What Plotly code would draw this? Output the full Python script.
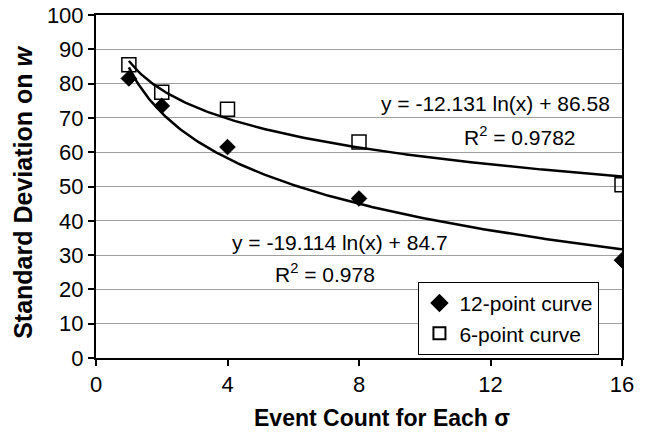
import numpy as np
import plotly.graph_objects as go

# Data
event_counts = [1, 2, 4, 8, 16]
sd_12pt = [81.5, 73.5, 61.5, 46.5, 28.5]
sd_6pt = [85.5, 77.5, 72.5, 63.0, 50.5]

# Trendline coefficients (logarithmic fits shown on chart)
fit_12 = (-19.114, 84.7, 0.978)
fit_6 = (-12.131, 86.58, 0.9782)

x_tick_vals = [0, 4, 8, 12, 16]

FONT = "Liberation Sans, Arial, sans-serif"

xs = np.linspace(1, 16, 200)

fig = go.Figure()
fig.add_trace(go.Scatter(x=xs, y=fit_12[0] * np.log(xs) + fit_12[1], mode="lines",
                         line=dict(color="black", width=2.5), showlegend=False, hoverinfo="skip"))
fig.add_trace(go.Scatter(x=xs, y=fit_6[0] * np.log(xs) + fit_6[1], mode="lines",
                         line=dict(color="black", width=2.5), showlegend=False, hoverinfo="skip"))
fig.add_trace(go.Scatter(x=event_counts, y=sd_12pt, mode="markers", name="12-point curve",
                         marker=dict(symbol="diamond", size=12, color="black",
                                     line=dict(color="black", width=1))))
fig.add_trace(go.Scatter(x=event_counts, y=sd_6pt, mode="markers", name="6-point curve",
                         marker=dict(symbol="square-open", size=14, color="black",
                                     line=dict(color="black", width=1.5))))

ANN = dict(family=FONT, size=21, color="black")
fig.add_annotation(x=12.16, y=74.3, text=f"y = {fit_6[0]:g} ln(x) + {fit_6[1]:g}",
                   showarrow=False, font=ANN)
fig.add_annotation(x=12.9, y=64.8, text=f"R<sup>2</sup> = {fit_6[2]:g}",
                   showarrow=False, font=ANN)
fig.add_annotation(x=7.42, y=33.8, text=f"y = {fit_12[0]:g} ln(x) + {fit_12[1]:g}",
                   showarrow=False, font=ANN)
fig.add_annotation(x=6.96, y=24.8, text=f"R<sup>2</sup> = {fit_12[2]:g}",
                   showarrow=False, font=ANN)

# Axis titles
fig.add_annotation(xref="paper", yref="paper", x=0.544, y=-0.175,
                   xanchor="center", yanchor="middle",
                   text="<b>Event Count for Each σ</b>", showarrow=False,
                   font=dict(family=FONT, size=23, color="black"))
fig.add_annotation(xref="paper", yref="paper", x=-0.139, y=0.484, textangle=-90,
                   xanchor="center", yanchor="middle",
                   text="<b>Standard Deviation on <i>w</i></b>", showarrow=False,
                   font=dict(family=FONT, size=25, color="black"))

fig.update_layout(
    width=649, height=432,
    margin=dict(l=96, r=27, t=15, b=74, autoexpand=False),
    paper_bgcolor="white", plot_bgcolor="white",
    font=dict(family=FONT, size=22, color="black"),
    xaxis=dict(range=[0, 16], tickvals=x_tick_vals, showgrid=False, zeroline=False,
               showline=True, linecolor="black", linewidth=2, mirror=True,
               ticks="outside", ticklen=6, tickwidth=2, tickcolor="black",
               tickfont=dict(size=22), automargin=False),
    yaxis=dict(range=[0, 100], dtick=10, showgrid=True, gridcolor="#a0a0a0", gridwidth=1,
               zeroline=False, showline=True, linecolor="black", linewidth=2, mirror=True,
               ticks="outside", ticklen=6, tickwidth=2, tickcolor="black",
               tickfont=dict(size=22), automargin=False),
    legend=dict(x=0.613, y=0.222, xanchor="left", yanchor="top",
                bordercolor="black", borderwidth=1, bgcolor="white",
                font=dict(size=21), tracegroupgap=0, itemsizing="constant"),
    showlegend=True,
)

fig.write_html("out.html", config={"displayModeBar": False},
               post_script="document.body.style.margin='0';")
